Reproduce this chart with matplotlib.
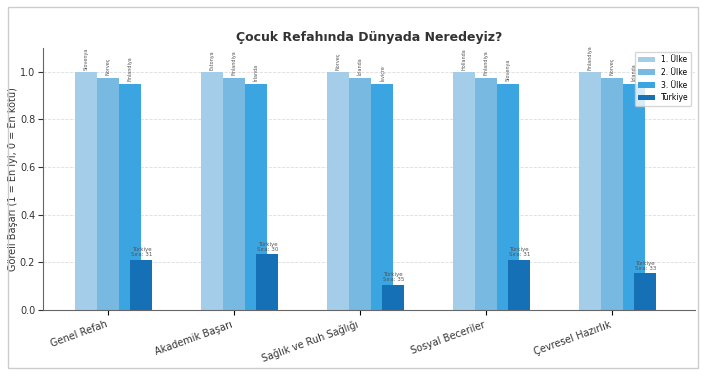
import numpy as np
import matplotlib.pyplot as plt
from matplotlib.patches import Rectangle

# veriler
kategoriler = ['Genel Refah', 'Akademik Başarı', 'Sağlık ve Ruh Sağlığı',
               'Sosyal Beceriler', 'Çevresel Hazırlık']
ulke1 = ['Slovenya', 'Estonya', 'Norveç', 'Hollanda', 'Finlandiya']
ulke2 = ['Norveç', 'Finlandiya', 'İzlanda', 'Finlandiya', 'Norveç']
ulke3 = ['Finlandiya', 'İrlanda', 'İsviçre', 'Slovenya', 'İzlanda']
deger1 = [1.0, 1.0, 1.0, 1.0, 1.0]
deger2 = [0.975, 0.975, 0.975, 0.975, 0.975]
deger3 = [0.95, 0.95, 0.95, 0.95, 0.95]
turkiye = [0.21, 0.235, 0.105, 0.21, 0.155]
sira = [31, 30, 35, 31, 33]

renkler = ['#a3cde8', '#78b9e2', '#3ba5e2', '#1670b6']

fig = plt.figure(figsize=(7.03, 3.76), dpi=100)
ax = fig.add_axes([0.061, 0.176, 0.928, 0.696])

x = np.arange(len(kategoriler))
w = 0.175

seriler = [(deger1, ulke1, '1. Ülke'), (deger2, ulke2, '2. Ülke'), (deger3, ulke3, '3. Ülke')]
for i, (vals, names, lab) in enumerate(seriler):
    pos = x + (i - 1) * w
    ax.bar(pos, vals, w, color=renkler[i], label=lab, zorder=2)
    for px, v, n in zip(pos, vals, names):
        ax.text(px, v + 0.01, n, rotation=90, ha='center', va='bottom',
                fontsize=3.5, color='#555555')

tpos = x + 1.5 * w
ax.bar(tpos, turkiye, w, color=renkler[3], label='Türkiye', zorder=3)
for px, v, s in zip(tpos, turkiye, sira):
    ax.text(px, v + 0.01, f'Türkiye\nSıra: {s}', ha='center', va='bottom',
            fontsize=4, color='#555555', linespacing=1.0)

ax.set_xticks(x)
ax.set_xticklabels(kategoriler, rotation=20, ha='right', fontsize=7, color='#333333')
ax.set_ylim(0, 1.1)
ax.set_xlim(-0.52, 4.66)
ax.set_yticks([0, 0.2, 0.4, 0.6, 0.8, 1.0])
ax.tick_params(axis='y', labelsize=7, colors='#333333', pad=2)
ax.set_ylabel('Göreli Başarı (1 = En iyi, 0 = En kötü)', fontsize=7, color='#333333',
              labelpad=1)
ax.set_title('Çocuk Refahında Dünyada Neredeyiz?', fontsize=9, fontweight='bold',
             color='#333333', pad=5)
ax.yaxis.grid(True, linestyle='--', color='#dddddd', linewidth=0.6, zorder=0)
ax.spines['top'].set_visible(False)
ax.spines['right'].set_visible(False)
ax.spines['left'].set_color('#666666')
ax.spines['bottom'].set_color('#666666')

ax.legend(loc='upper right', fontsize=5.5, frameon=True, handlelength=2.2)

# dış çerçeve
fig.patches.append(Rectangle((0.011, 0.021), 0.982, 0.96, transform=fig.transFigure,
                             fill=False, edgecolor='#cccccc', linewidth=1.0))

plt.savefig('out.png', dpi=100)
